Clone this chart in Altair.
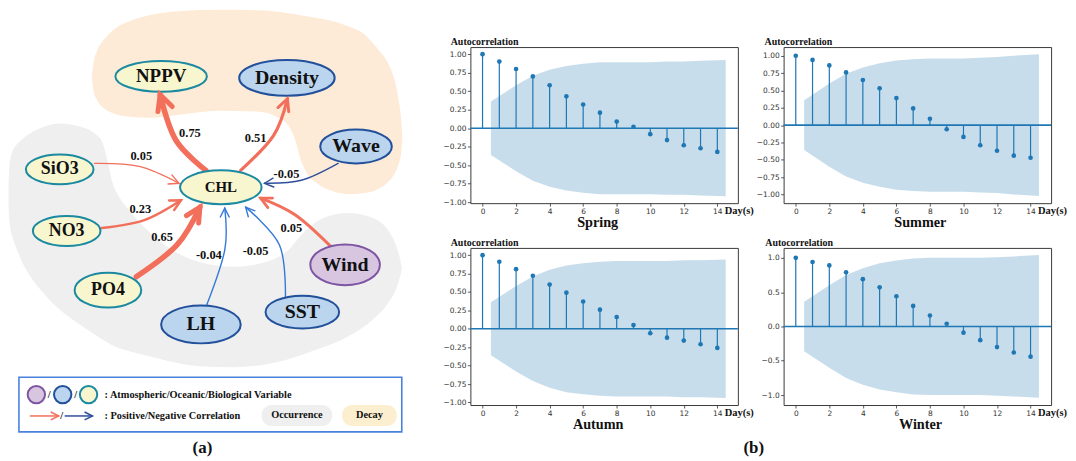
import math
import altair as alt
import pandas as pd

SERIF = "Liberation Serif"
SANS = "DejaVu Sans"
ACF_BLUE = "#1f77b4"

# ---------------- (b) autocorrelation data ----------------
LAGS = list(range(15))
BAND_X = [0.5, 2, 3, 4, 5, 6, 7, 8, 9, 10, 11, 12, 13, 14.5]
XDOM = [-0.725, 15.225]

ACF_SPRING = [1.00, 0.90, 0.80, 0.70, 0.58, 0.43, 0.32, 0.21, 0.09, 0.02, -0.08, -0.16, -0.23, -0.27, -0.32]
ACF_SUMMER = [1.00, 0.94, 0.86, 0.76, 0.65, 0.53, 0.39, 0.24, 0.09, -0.06, -0.17, -0.29, -0.37, -0.44, -0.47]
ACF_AUTUMN = [1.00, 0.91, 0.81, 0.72, 0.60, 0.49, 0.37, 0.26, 0.16, 0.05, -0.06, -0.12, -0.16, -0.21, -0.26]
ACF_WINTER = [1.00, 0.94, 0.89, 0.79, 0.69, 0.57, 0.44, 0.30, 0.16, 0.04, -0.09, -0.20, -0.30, -0.38, -0.44]

BAND_SPRING = [0.36, 0.58, 0.71, 0.79, 0.84, 0.87, 0.89, 0.89, 0.89, 0.89, 0.90, 0.90, 0.91, 0.92]
BAND_SUMMER = [0.36, 0.60, 0.74, 0.83, 0.89, 0.93, 0.95, 0.96, 0.96, 0.96, 0.97, 0.98, 1.00, 1.02]
BAND_AUTUMN = [0.36, 0.58, 0.71, 0.80, 0.86, 0.89, 0.91, 0.92, 0.92, 0.92, 0.92, 0.93, 0.93, 0.94]
BAND_WINTER = [0.36, 0.60, 0.75, 0.85, 0.92, 0.96, 0.99, 1.00, 1.00, 1.00, 1.00, 1.01, 1.02, 1.04]

TICKS_025 = [-1.0, -0.75, -0.5, -0.25, 0.0, 0.25, 0.5, 0.75, 1.0]
TICKS_05 = [-1.0, -0.5, 0.0, 0.5, 1.0]

# ---------------- (a) network diagram data (diagram pixel coordinates) ----------------
NODES = ["NPPV", "Density", "Wave", "SiO3", "CHL", "NO3", "PO4", "LH", "SST", "Wind"]
NODE_X = [162, 288.5, 358, 60, 222, 67, 108.5, 202, 304, 347]
NODE_Y = [75.5, 77, 146, 169, 187, 231, 290.5, 325, 312.5, 265]
NODE_KIND = ["Biological", "Oceanic", "Oceanic", "Biological", "Biological",
             "Biological", "Biological", "Oceanic", "Oceanic", "Atmospheric"]

EDGES = ["CHL>NPPV", "CHL>Density", "Wave>CHL", "SiO3>CHL", "NO3>CHL",
         "PO4>CHL", "LH>CHL", "SST>CHL", "Wind>CHL"]
EDGE_R = ["0.75", "0.51", "-0.05", "0.05", "0.23", "0.65", "-0.04", "-0.05", "0.05"]
EDGE_SIGN = ["pos", "pos", "neg_dark", "pos", "pos", "pos", "neg", "neg", "pos"]
EDGE_X0 = [207, 242, 340, 95, 102, 137, 208, 287, 333]
EDGE_Y0 = [170, 170, 163, 163, 228, 277, 305, 297, 247]
EDGE_XM = [177, 275, 303, 140, 145, 178, 226, 281, 297]
EDGE_YM = [140, 135, 180, 166, 220, 245, 250, 245, 215]
EDGE_X1 = [161, 289, 266, 180, 182, 201, 226, 247, 262]
EDGE_Y1 = [94, 98, 183, 183, 200, 207, 208, 207, 198]
EDGE_LABEL_X = [191, 257, 288, 142, 141, 163, 210, 257, 293]
EDGE_LABEL_Y = [132, 137, 174, 156, 209, 237, 255, 251, 228]

# region outlines (Decay / Occurrence)
DECAY_X = [92.5, 94, 98, 105, 115, 130, 150, 180, 220, 260, 280, 290, 297, 302, 308, 320,
           335, 350, 365, 380, 390, 397, 401, 403.5, 404.5]
DECAY_TOP = [74, 62, 49, 38, 28, 20, 14, 10, 8.5, 9, 10.5, 12, 13, 14, 15, 17,
             20, 25, 32, 48, 62, 80, 100, 120, 136]
DECAY_BOT = [78, 90, 100, 108, 113, 116, 117, 114, 110, 111, 117, 125, 140, 158, 172, 184,
             191, 194, 193, 189, 182, 173, 163, 152, 140]

OCC_X = [8.5, 9.5, 12, 16, 22, 30, 45, 60, 80, 95, 103, 108, 113, 120, 130, 150, 170, 200,
         235, 268, 290, 305, 325, 350, 375, 390, 398, 402, 404]
OCC_TOP = [185, 165, 152, 145, 139, 133, 126, 123, 126, 133, 142, 160, 182, 197, 210, 232, 248, 262,
           267, 262, 250, 233, 218, 213, 218, 230, 245, 258, 268]
OCC_BOT = [205, 222, 235, 247, 262, 276, 295, 310, 325, 335, 340, 343, 346, 349, 352, 357, 362, 367,
           368, 365, 360, 355, 348, 337, 320, 304, 290, 278, 270]

LEGEND_KINDS = ["Atmospheric", "Oceanic", "Biological"]
LEGEND_TEXT = [": Atmospheric/Oceanic/Biological Variable", ": Positive/Negative Correlation"]
REGION_NAMES = ["Occurrence", "Decay"]
PANEL_LABELS = ["(a)", "(b)"]

# ---------------- styles / layout ----------------
RED = "#f26f5b"
NAVY = "#2f4f9c"
BLUE = "#3479d6"
PEACH = "#fdebd8"
GRAY = "#efefef"
DECAY_PILL = "#fcefcf"
KIND_FILL = ["#d8c6e1", "#bcd5ee", "#f8f6cf"]
KIND_STROKE = ["#7d55a3", "#22509a", "#1b8aa1"]

NODE_W = [92, 96, 72, 68, 82, 68, 67, 80, 74, 70]
NODE_H = [31, 36, 34, 30, 34, 30, 35, 38, 33, 41]
NODE_FS = [19, 20, 20, 18, 15, 18, 18, 20, 20, 20]
EDGE_W = [5.5, 3.2, 1.4, 1.4, 2.5, 5.5, 1.4, 1.4, 3.0]
HEAD_SIZE = [924, 542, 320, 392, 462, 818, 320, 320, 462]
HEAD_W = [5.0, 3.0, 1.4, 1.4, 2.4, 5.0, 1.4, 1.4, 2.8]
CHEVRON = "M-1,-0.5L0,0L-1,0.5"
PILL_X = [263, 344]
PILL_X2 = [334, 399]
PILL_Y = [406, 406]
PILL_Y2 = [427, 427]


def ellipse_path(k):
    c = 0.5523
    return (f"M1,0C1,{k*c:.4f} {c},{k:.4f} 0,{k:.4f}"
            f"C{-c},{k:.4f} -1,{k*c:.4f} -1,0"
            f"C-1,{-k*c:.4f} {-c},{-k:.4f} 0,{-k:.4f}"
            f"C{c},{-k:.4f} 1,{-k*c:.4f} 1,0Z")


# ================= diagram =================
DX = alt.Scale(domain=[8, 427], nice=False, zero=False)
DY = alt.Scale(domain=[46, 203], reverse=True, nice=False, zero=False)


def PX(f):
    return alt.X(f, scale=DX, axis=None)


def PY(f):
    return alt.Y(f, scale=DY, axis=None)


sign_color = alt.Color("sign:N", scale=alt.Scale(domain=["pos", "neg", "neg_dark"],
                                                  range=[RED, BLUE, NAVY]), legend=None)

anchor = alt.Chart(pd.DataFrame({"x": [8], "x2": [20], "y": [8]})).mark_rule(
    strokeOpacity=0, strokeWidth=0.1).encode(x=PX("x:Q"), x2="x2:Q", y=PY("y:Q"))

decay_df = pd.DataFrame({"x": DECAY_X, "top": DECAY_TOP, "bot": DECAY_BOT})
decay = alt.Chart(decay_df).mark_area(color=PEACH, opacity=1, interpolate="monotone").encode(
    x=PX("x:Q"), y=PY("top:Q"), y2="bot:Q")
occ_df = pd.DataFrame({"x": OCC_X, "top": OCC_TOP, "bot": OCC_BOT})
occ = alt.Chart(occ_df).mark_area(color=GRAY, opacity=1, interpolate="monotone").encode(
    x=PX("x:Q"), y=PY("top:Q"), y2="bot:Q")

rows = []
for i, e in enumerate(EDGES):
    for s, (xx, yy) in enumerate([(EDGE_X0[i], EDGE_Y0[i]), (EDGE_XM[i], EDGE_YM[i]),
                                   (EDGE_X1[i], EDGE_Y1[i])]):
        rows.append({"edge": e, "seq": s, "x": xx, "y": yy, "sign": EDGE_SIGN[i], "w": EDGE_W[i]})
edge_df = pd.DataFrame(rows)
edge_lines = alt.Chart(edge_df).mark_line(interpolate="cardinal", strokeCap="round").encode(
    x=PX("x:Q"), y=PY("y:Q"), detail="edge:N", order="seq:Q", color=sign_color,
    strokeWidth=alt.StrokeWidth("w:Q", scale=None))

head_df = pd.DataFrame({
    "x": EDGE_X1, "y": EDGE_Y1, "sign": EDGE_SIGN, "hs": HEAD_SIZE, "hw": HEAD_W,
    "ang": [math.degrees(math.atan2(EDGE_Y1[i] - EDGE_YM[i], EDGE_X1[i] - EDGE_XM[i])) % 360
            for i in range(len(EDGES))]})
heads = alt.Chart(head_df).mark_point(shape=CHEVRON, filled=False, opacity=1,
                                      strokeJoin="miter", strokeCap="round").encode(
    x=PX("x:Q"), y=PY("y:Q"), color=sign_color, size=alt.Size("hs:Q", scale=None),
    strokeWidth=alt.StrokeWidth("hw:Q", scale=None), angle=alt.Angle("ang:Q", scale=None))

node_df = pd.DataFrame({"node": NODES, "x": NODE_X, "y": NODE_Y, "kind": NODE_KIND,
                        "sz": [w * w for w in NODE_W], "fs": NODE_FS})
node_paths = [ellipse_path(NODE_H[i] / NODE_W[i]) for i in range(len(NODES))]
kind_fill = alt.Fill("kind:N", scale=alt.Scale(domain=LEGEND_KINDS, range=KIND_FILL), legend=None)
kind_stroke = alt.Stroke("kind:N", scale=alt.Scale(domain=LEGEND_KINDS, range=KIND_STROKE), legend=None)
nodes = alt.Chart(node_df).mark_point(filled=True, opacity=1, strokeWidth=2).encode(
    x=PX("x:Q"), y=PY("y:Q"),
    shape=alt.Shape("node:N", scale=alt.Scale(domain=NODES, range=node_paths), legend=None),
    size=alt.Size("sz:Q", scale=None), fill=kind_fill, stroke=kind_stroke)
node_text = alt.Chart(node_df).mark_text(font=SERIF, fontWeight="bold", color="#111111",
                                         baseline="middle", align="center").encode(
    x=PX("x:Q"), y=PY("y:Q"), text="node:N", size=alt.Size("fs:Q", scale=None))

elab_df = pd.DataFrame({"x": EDGE_LABEL_X, "y": EDGE_LABEL_Y, "t": EDGE_R})
edge_text = alt.Chart(elab_df).mark_text(font=SERIF, fontWeight="bold", fontSize=12.5,
                                         color="#111111", baseline="middle").encode(
    x=PX("x:Q"), y=PY("y:Q"), text="t:N")

# legend box
box = alt.Chart(pd.DataFrame({"x": [19], "x2": [404], "y": [378], "y2": [433]})).mark_rect(
    filled=False, color="#4a80de", strokeWidth=1.6).encode(
    x=PX("x:Q"), x2="x2:Q", y=PY("y:Q"), y2="y2:Q")
pill_layers = []
for i, (nm, colr) in enumerate(zip(REGION_NAMES, [GRAY, DECAY_PILL])):
    pdf = pd.DataFrame({"name": [nm], "x": [PILL_X[i]], "x2": [PILL_X2[i]],
                        "y": [PILL_Y[i]], "y2": [PILL_Y2[i]]})
    pill_layers.append(alt.Chart(pdf).mark_rect(cornerRadius=10, opacity=1, color=colr).encode(
        x=PX("x:Q"), x2="x2:Q", y=PY("y:Q"), y2="y2:Q"))
pill_df = pd.DataFrame({"name": REGION_NAMES, "cx": [298.5, 371.5], "cy": [416.5, 416]})
pill_text = alt.Chart(pill_df).mark_text(font=SERIF, fontWeight="bold", fontSize=10.4,
                                         color="#111111", baseline="middle").encode(
    x=PX("cx:Q"), y=PY("cy:Q"), text="name:N")
lc_df = pd.DataFrame({"kind": LEGEND_KINDS, "x": [36.5, 63, 89], "y": [395.5] * 3})
leg_circles = alt.Chart(lc_df).mark_point(shape="circle", filled=True, opacity=1, strokeWidth=2,
                                          size=306).encode(
    x=PX("x:Q"), y=PY("y:Q"), fill=kind_fill, stroke=kind_stroke)
la_df = pd.DataFrame({"sign": ["pos", "neg_dark"], "x": [30, 65], "x2": [59, 93], "y": [417, 417]})
leg_arrows = alt.Chart(la_df).mark_rule(strokeWidth=1.5).encode(
    x=PX("x:Q"), x2="x2:Q", y=PY("y:Q"), color=sign_color)
leg_heads = alt.Chart(la_df).mark_point(shape=CHEVRON, filled=False, opacity=1, size=256,
                                        strokeWidth=1.5, angle=0).encode(
    x=PX("x2:Q"), y=PY("y:Q"), color=sign_color)
slash_df = pd.DataFrame({"x": [49.5, 76, 62], "y": [395.5, 395.5, 417], "t": ["/", "/", "/"]})
slashes = alt.Chart(slash_df).mark_text(font=SERIF, fontWeight="bold", fontSize=10.5,
                                        color="#111111", baseline="middle").encode(
    x=PX("x:Q"), y=PY("y:Q"), text="t:N")
lt_df = pd.DataFrame({"x": [105, 105], "y": [396, 417], "t": LEGEND_TEXT})
leg_text = alt.Chart(lt_df).mark_text(font=SERIF, fontWeight="bold", fontSize=10.4, align="left",
                                      color="#111111", baseline="middle").encode(
    x=PX("x:Q"), y=PY("y:Q"), text="t:N")
pl_df = pd.DataFrame({"x": [203.5, 758], "y": [449, 449], "t": PANEL_LABELS})
panel_lab = alt.Chart(pl_df).mark_text(font=SERIF, fontWeight="bold", fontSize=17,
                                       color="#111111", baseline="middle").encode(
    x=PX("x:Q"), y=PY("y:Q"), text="t:N")

diagram = alt.layer(anchor, decay, occ, edge_lines, nodes, node_text, heads, edge_text,
                    box, *pill_layers, pill_text, leg_circles, leg_arrows, leg_heads, slashes,
                    leg_text, panel_lab).properties(width=419, height=157)


# ================= ACF panels =================
def acf_panel(season, acf, band, ydom, yticks, yfmt, h, title_dx, ytitle_x):
    w = 269
    stems = pd.DataFrame({"lag": LAGS, "acf": acf})
    bdf = pd.DataFrame({"x": BAND_X, "hi": band, "lo": [-v for v in band]})
    xs = alt.Scale(domain=XDOM, nice=False, zero=False)
    ys = alt.Scale(domain=ydom, nice=False, zero=False)
    common = dict(labelFont=SANS, labelFontSize=7.5, labelColor="#333333", tickColor="#333333",
                  tickSize=3, tickWidth=0.8, labelPadding=1.5, domain=False, grid=False,
                  labelFlush=False, titleFont=SERIF, titleFontWeight="bold", titleColor="#111111",
                  titleBaseline="alphabetic")
    xaxis = alt.Axis(values=list(range(0, 15, 2)), title=season, titleFontSize=14.3,
                     titleX=w / 2 + title_dx, titleY=23.4, titleAlign="center", **common)
    yaxis = alt.Axis(values=yticks, format=yfmt, title="Autocorrelation", titleFontSize=10,
                     titleAngle=0, titleX=ytitle_x, titleY=-2.2, titleAlign="left", **common)
    rules = alt.Chart(stems).mark_rule(color=ACF_BLUE, strokeWidth=1.2).encode(
        x=alt.X("lag:Q", scale=xs, axis=xaxis), y=alt.Y("acf:Q", scale=ys, axis=yaxis),
        y2=alt.datum(0))
    zero = alt.Chart(pd.DataFrame({"z": [0]})).mark_rule(color=ACF_BLUE, strokeWidth=1.6).encode(
        y=alt.Y("z:Q", scale=ys, axis=yaxis))
    dots = alt.Chart(stems).mark_circle(color=ACF_BLUE, size=22, opacity=1).encode(
        x=alt.X("lag:Q", scale=xs, axis=xaxis), y=alt.Y("acf:Q", scale=ys, axis=yaxis))
    conf = alt.Chart(bdf).mark_area(color=ACF_BLUE, opacity=0.25).encode(
        x=alt.X("x:Q", scale=xs, axis=xaxis), y=alt.Y("hi:Q", scale=ys, axis=yaxis), y2="lo:Q")
    days = alt.Chart(pd.DataFrame({"t": ["Day(s)"]})).mark_text(
        font=SERIF, fontWeight="bold", fontSize=10.5, align="left", baseline="alphabetic",
        color="#111111").encode(text="t:N", x=alt.value(w - 13.2), y=alt.value(h + 11.3))
    return alt.layer(rules, zero, dots, conf, days).properties(
        width=w, height=h, view=alt.ViewBackground(stroke="#3a3a3a", strokeWidth=1))


spring = acf_panel("Spring", ACF_SPRING, BAND_SPRING, [-1.012, 1.096], TICKS_025, ".2f", 157, -7, -20.3)
summer = acf_panel("Summer", ACF_SUMMER, BAND_SUMMER, [-1.125, 1.125], TICKS_025, ".2f", 157, 2.5, -19.7)
autumn = acf_panel("Autumn", ACF_AUTUMN, BAND_AUTUMN, [-1.035, 1.098], TICKS_025, ".2f", 158, -6.5, -20.3)
winter = acf_panel("Winter", ACF_WINTER, BAND_WINTER, [-1.145, 1.145], TICKS_05, ".1f", 158, 2.7, -19.0)

spacer = alt.Chart(pd.DataFrame({"v": [0]})).mark_point(opacity=0).encode(
    x=alt.X("v:Q", axis=None), y=alt.Y("v:Q", axis=None)).properties(width=10, height=158)

chart = alt.concat(diagram, spring, summer, spacer, autumn, winter, columns=3,
                   spacing={"row": 45, "column": 46}, bounds="flush", align="each").properties(
    padding=0).configure_view(strokeWidth=0)

chart.save("out.html", embed_options={"renderer": "svg", "actions": False})
